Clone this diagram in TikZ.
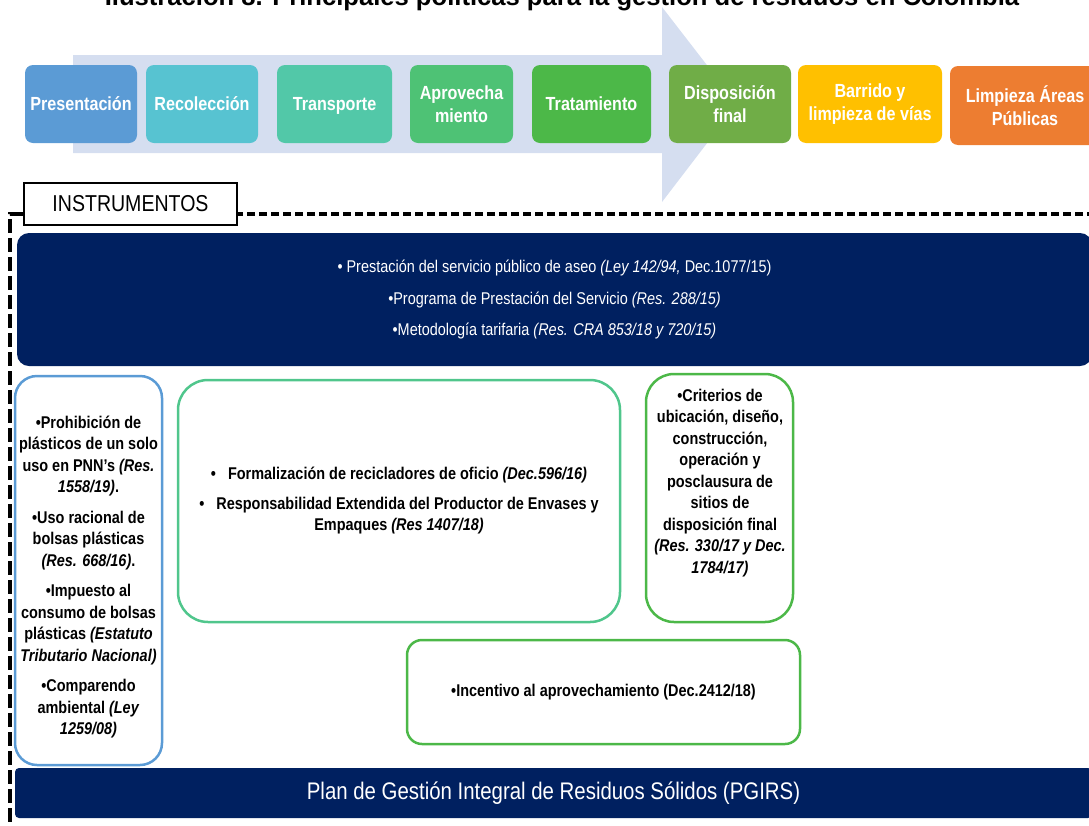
\documentclass[tikz,border=0pt]{standalone}
\usepackage{fontspec}
\setmainfont{Liberation Sans}[FakeStretch=0.85]
\newfontfamily\titulofont{Liberation Sans}
\definecolor{flecha}{RGB}{213,222,240}
\definecolor{navy}{RGB}{0,32,96}
\definecolor{c1}{RGB}{91,155,213}
\definecolor{c2}{RGB}{87,195,209}
\definecolor{c3}{RGB}{82,200,168}
\definecolor{c4}{RGB}{78,194,117}
\definecolor{c5}{RGB}{76,184,72}
\definecolor{c6}{RGB}{112,173,71}
\definecolor{c7}{RGB}{255,192,0}
\definecolor{c8}{RGB}{237,125,49}
\definecolor{menta}{RGB}{80,198,140}
\begin{document}
\begin{tikzpicture}[x=1pt, y=-1pt,
    etapa/.style = {rectangle, rounded corners=8pt, text=white, align=center, inner sep=0pt, minimum height=78pt, font=\bfseries\fontsize{19}{23}\selectfont},
    caja/.style = {draw, rectangle, line width=2.5pt, align=center, inner sep=0pt, font=\bfseries\fontsize{17}{21.5}\selectfont},
    texto/.style = {align=center, inner sep=0pt, font=\bfseries\fontsize{17}{21.5}\selectfont},
    banda/.style = {rectangle, fill=navy, text=white, align=center, inner sep=0pt}]
    \useasboundingbox (0,0) rectangle (1089,825);
    \clip (0,0) rectangle (1089,825);
    \node[anchor=base, font=\titulofont\bfseries\fontsize{25.6}{28}\selectfont] (titulo) at (562,5) {Ilustración 8. Principales políticas para la gestión de residuos en Colombia};
    \fill[flecha] (73,55) -- (662,55) -- (662,7) -- (737,104) -- (662,202) -- (662,153) -- (73,153) -- cycle;
    \node[etapa, fill=c1, minimum width=112pt] (1) at (81,104) {Presentación\vphantom{Áp}};
    \node[etapa, fill=c2, minimum width=112pt] (2) at (202,104) {Recolección\vphantom{Áp}};
    \node[etapa, fill=c3, minimum width=115pt] (3) at (334.5,104) {Transporte\vphantom{Áp}};
    \node[etapa, fill=c4, minimum width=103pt] (4) at (461.5,104) {Aprovecha\\miento};
    \node[etapa, fill=c5, minimum width=119pt] (5) at (591.5,104) {Tratamiento\vphantom{Áp}};
    \node[etapa, fill=c6, minimum width=122pt] (6) at (730,104) {Disposición\\final};
    \node[etapa, fill=c7, minimum width=144pt] (7) at (870,104) {Barrido y\\limpieza de vías};
    \node[etapa, fill=c8, minimum width=150pt, minimum height=79pt] (8) at (1025,105.5) {Limpieza Áreas\\Públicas};
    \draw[line width=4.5pt, dash pattern=on 8pt off 4pt] (1095,214) -- (237,214);
    \draw[line width=4.5pt, dash pattern=on 14pt off 5pt] (24,214) -- (10,214) -- (10,830);
    \node[draw, fill=white, line width=2.5pt, minimum width=213pt, minimum height=42pt, inner sep=0pt, font=\fontsize{23}{26}\selectfont] (instr) at (130.5,204) {INSTRUMENTOS};
    \node[banda, rounded corners=12pt, minimum width=1075pt, minimum height=133pt, font=\fontsize{17}{31.5}\selectfont] (aseo) at (554.5,299.5) {• Prestación del servicio público de aseo \textit{(Ley 142/94,} Dec.1077/15)\\•Programa de Prestación del Servicio \textit{(Res. 288/15)}\\•Metodología tarifaria \textit{(Res. CRA 853/18 y 720/15)}};
    \node[caja, draw=c1, rounded corners=22pt, minimum width=147pt, minimum height=389pt] (prohib) at (88.5,570.5) {};
    \node[texto] (prohibt) at (88.5,577) {•Prohibición de\\plásticos de un solo\\uso en PNN’s \textit{(Res.}\\\textit{1558/19)}.\\[9pt]•Uso racional de\\bolsas plásticas\\\textit{(Res. 668/16)}.\\[9pt]•Impuesto al\\consumo de bolsas\\plásticas \textit{(Estatuto}\\\textit{Tributario Nacional)}\\[9pt]•Comparendo\\ambiental \textit{(Ley}\\\textit{1259/08)}};
    \node[caja, draw=menta, rounded corners=30pt, minimum width=442pt, minimum height=242pt] (recic) at (399,501) {•\hspace{12pt}Formalización de recicladores de oficio \textit{(Dec.596/16)}\\[8pt]•\hspace{12pt}Responsabilidad Extendida del Productor de Envases y\\Empaques \textit{(Res 1407/18)}};
    \node[caja, draw=c5, rounded corners=28pt, minimum width=147pt, minimum height=248pt] (disp) at (719.5,498) {};
    \node[texto] (dispt) at (720,483) {•Criterios de\\ubicación, diseño,\\construcción,\\operación y\\posclausura de\\sitios de\\disposición final\\\textit{(Res. 330/17 y Dec.}\\\textit{1784/17)}};
    \node[caja, draw=c5, rounded corners=15pt, minimum width=393pt, minimum height=104pt] (incent) at (603.5,692) {•Incentivo al aprovechamiento (Dec.2412/18)};
    \node[banda, rounded corners=4pt, minimum width=1077pt, minimum height=50pt, font=\fontsize{24}{28}\selectfont] (pgirs) at (553.5,793) {Plan de Gestión Integral de Residuos Sólidos (PGIRS)};
\end{tikzpicture}
\end{document}
